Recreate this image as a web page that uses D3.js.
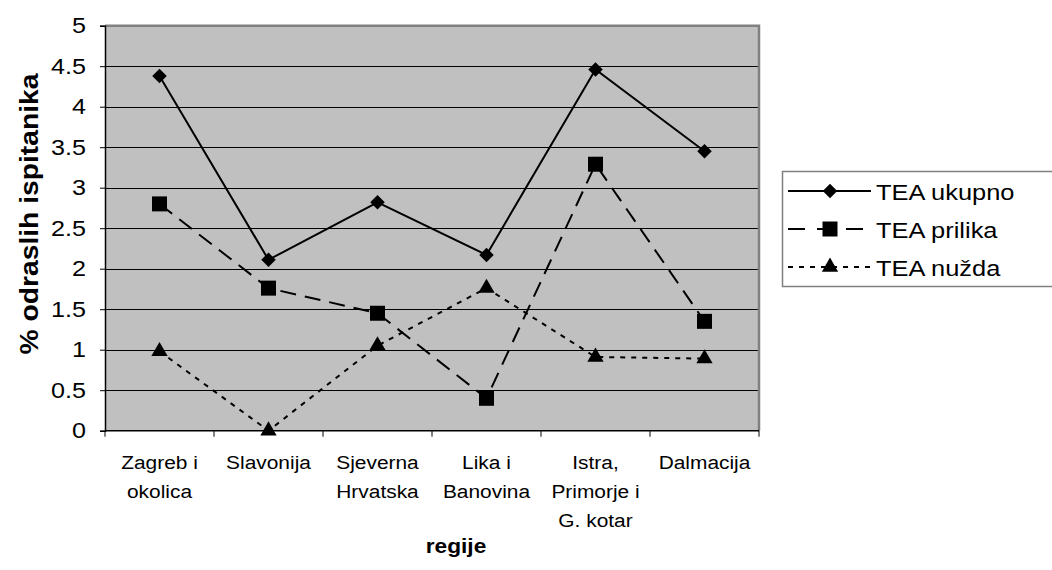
<!DOCTYPE html>
<html><head><meta charset="utf-8">
<script src="https://cdn.jsdelivr.net/npm/d3@7"></script>
<style>
body{margin:0;background:#fff;}
svg{display:block;font-family:"Liberation Sans",Arial,sans-serif;}
</style></head>
<body><svg id="c" width="1052" height="570"></svg>
<script>
const categories = [["Zagreb i","okolica"],["Slavonija"],["Sjeverna","Hrvatska"],["Lika i","Banovina"],["Istra,","Primorje i","G. kotar"],["Dalmacija"]];
const tea_ukupno = [4.38, 2.11, 2.82, 2.17, 4.46, 3.45];
const tea_prilika = [2.80, 1.76, 1.45, 0.40, 3.29, 1.35];
const tea_nuzda = [0.98, 0.00, 1.05, 1.76, 0.91, 0.89];
const yTicks = [0,0.5,1,1.5,2,2.5,3,3.5,4,4.5,5];
const seriesNames = ["TEA ukupno","TEA prilika","TEA nužda"];

const svg = d3.select("#c");
const L=105, R=759, T=25.7, B=430.7;
const keys = categories.map((c,i)=>"c"+i);
const x = d3.scaleBand().domain(keys).range([L,R]).padding(0);
const y = d3.scaleLinear().domain([0,5]).range([B,T]);

// stretched text helper
function txt(g, px, py, s, size, sx, anchor, weight, rot){
  const t = g.append("text")
    .attr("transform", `translate(${px},${py})` + (rot?` rotate(${rot})`:"") + ` scale(${sx},1)`)
    .attr("text-anchor", anchor||"start").attr("font-size", size).attr("fill","#000")
    .attr("font-weight", weight||"normal").text(s);
  return t;
}

// plot background
svg.append("rect").attr("x",L).attr("y",T).attr("width",R-L).attr("height",B-T).attr("fill","#c0c0c0");
// gridlines
svg.append("g").selectAll("line").data(yTicks.filter(v=>v>0&&v<5)).join("line")
  .attr("x1",L).attr("x2",R).attr("y1",d=>Math.round(y(d))+0.5).attr("y2",d=>Math.round(y(d))+0.5)
  .attr("stroke","#000").attr("stroke-width",1);
// gray border top & right
svg.append("path").attr("d",`M${L},${T}H${R}V${B}`).attr("fill","none").attr("stroke","#808080").attr("stroke-width",2.5);

// y axis
const ya = d3.axisLeft(y).tickValues(yTicks).tickSize(5).tickFormat("");
const gy = svg.append("g").attr("transform",`translate(${L},0)`).call(ya);
gy.select(".domain").attr("stroke","#000").attr("stroke-width",1.5);
gy.selectAll(".tick line").attr("stroke","#000");
const gyl = svg.append("g");
yTicks.forEach(v=>txt(gyl, 86, y(v)+7.5, String(v), 21.5, 1.17, "end"));

// x axis (ticks at boundaries)
const xb = d3.scaleLinear().domain([0,keys.length]).range([L,R]);
const gx = svg.append("g").attr("transform",`translate(0,${B})`);
gx.append("line").attr("x1",L).attr("x2",R).attr("stroke","#000").attr("stroke-width",1.5);
gx.selectAll("line.t").data(d3.range(keys.length+1)).join("line").attr("class","t")
  .attr("x1",d=>xb(d)).attr("x2",d=>xb(d)).attr("y1",0).attr("y2",6).attr("stroke","#000");
const lab = svg.append("g");
categories.forEach((c,i)=>{
  c.forEach((s,j)=>txt(lab, x(keys[i])+x.bandwidth()/2, 469+j*29, s, 19, 1.1, "middle"));
});

// titles
txt(svg, 456, 553, "regije", 21, 1.08, "middle", "bold");
txt(svg, 38, 214, "% odraslih ispitanika", 25, 1.13, "middle", "bold", -90);

// series
const cx = i => x(keys[i])+x.bandwidth()/2;
const line = d3.line().x((d,i)=>cx(i)).y(d=>y(d));
const series = [
  {vals:tea_ukupno, dash:null, ldash:null, sym:d3.symbolSquare, size:105, rot:45},
  {vals:tea_prilika, dash:"16,9", ldash:"17,12", sym:d3.symbolSquare, size:225, rot:0},
  {vals:tea_nuzda, dash:"5,6", ldash:"5,6", sym:d3.symbolTriangle, size:115, rot:0}
];
series.forEach(s=>{
  svg.append("path").datum(s.vals).attr("d",line).attr("fill","none").attr("stroke","#000").attr("stroke-width",2)
    .attr("stroke-dasharray",s.dash);
  svg.append("g").selectAll("path").data(s.vals).join("path")
    .attr("transform",(d,i)=>`translate(${cx(i)},${y(d)}) rotate(${s.rot})`)
    .attr("d",d3.symbol().type(s.sym).size(s.size)).attr("fill","#000");
});

// legend
const lg = svg.append("g");
lg.append("rect").attr("x",782.5).attr("y",171.5).attr("width",300).attr("height",115).attr("fill","#fff").attr("stroke","#808080").attr("stroke-width",1.5);
series.forEach((s,i)=>{
  const yy = 191+i*38;
  lg.append("line").attr("x1",788).attr("x2",871).attr("y1",yy).attr("y2",yy).attr("stroke","#000").attr("stroke-width",2).attr("stroke-dasharray",s.ldash);
  lg.append("path").attr("transform",`translate(830,${yy}) rotate(${s.rot})`).attr("d",d3.symbol().type(s.sym).size(s.size)).attr("fill","#000");
  txt(lg, 876, yy+8.5, seriesNames[i], 22.5, 1.13, "start");
});
</script></body></html>
